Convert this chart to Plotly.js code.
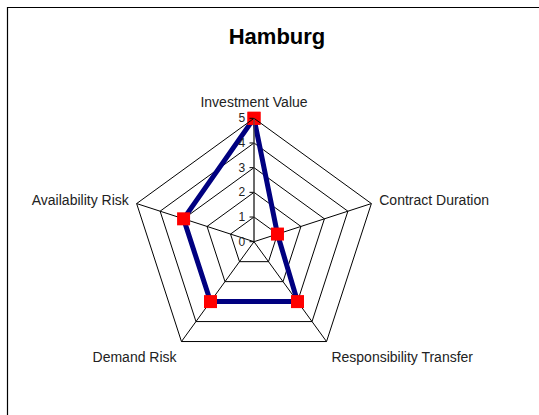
<!DOCTYPE html>
<html>
<head>
<meta charset="utf-8">
<script src="https://cdn.plot.ly/plotly-3.0.1.min.js"></script>
<style>
html,body{margin:0;padding:0;background:#fff;}
#chart{width:539px;height:415px;}
</style>
</head>
<body>
<div id="chart"></div>
<script>
const chartTitle = "Hamburg";
const categories = ["Investment Value", "Contract Duration", "Responsibility Transfer", "Demand Risk", "Availability Risk"];
const values = [5, 1, 3, 3, 3];
const radialTicks = [0, 1, 2, 3, 4, 5];

const W = 539, H = 415;
const cx = 254, cy = 241.7, R = 123.4;

const trace = {
  type: "scatterpolar",
  r: values.concat([values[0]]),
  theta: categories.concat([categories[0]]),
  mode: "lines+markers",
  line: {color: "#000080", width: 5},
  marker: {symbol: "square", size: 13, color: "#ff0000", line: {width: 0}},
  showlegend: false,
  cliponaxis: false
};

const layout = {
  width: W, height: H,
  margin: {l: 0, r: 0, t: 0, b: 0},
  paper_bgcolor: "#ffffff",
  font: {family: "Liberation Sans, Arial, sans-serif", color: "#000"},
  title: {
    text: "<b>" + chartTitle + "</b>",
    font: {size: 22, color: "#000", family: "Liberation Sans, Arial, sans-serif"},
    x: 277 / W, xref: "paper", xanchor: "center",
    y: 1 - 36 / H, yref: "paper", yanchor: "middle"
  },
  polar: {
    domain: {x: [(cx - R) / W, (cx + R) / W], y: [(H - cy - R) / H, (H - cy + R) / H]},
    bgcolor: "#ffffff",
    gridshape: "linear",
    angularaxis: {
      direction: "clockwise",
      rotation: 90,
      showline: true, linecolor: "#000", linewidth: 1,
      showgrid: true, gridcolor: "#000", gridwidth: 1,
      ticks: "outside", ticklen: 5, tickcolor: "rgba(0,0,0,0)",
      tickfont: {size: 14, color: "#222"}
    },
    radialaxis: {
      range: [0, 5],
      tickvals: radialTicks,
      ticktext: radialTicks.map(String),
      angle: 90,
      tickangle: 90,
      side: "counterclockwise",
      showline: true, linecolor: "#555", linewidth: 1,
      showgrid: true, gridcolor: "#000", gridwidth: 1,
      ticks: "outside", ticklen: 4, tickcolor: "#000",
      tickfont: {size: 12, color: "#222"}
    }
  },
  shapes: [{
    type: "rect", xref: "paper", yref: "paper",
    x0: 7.5 / W, x1: 1.2, y0: -0.2, y1: 1 - 7.5 / H,
    line: {color: "#000", width: 1.2}, fillcolor: "rgba(0,0,0,0)", layer: "below"
  }]
};

Plotly.newPlot("chart", [trace], layout, {displayModeBar: false, staticPlot: true});
</script>
</body>
</html>
